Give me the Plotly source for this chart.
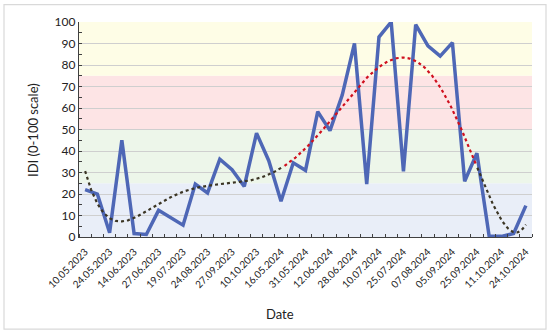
import numpy as np
import plotly.graph_objects as go

dates = ["10.05.2023","17.05.2023","24.05.2023","31.05.2023","14.06.2023","21.06.2023",
         "27.06.2023","05.07.2023","19.07.2023","02.08.2023","24.08.2023","07.09.2023",
         "27.09.2023","03.10.2023","10.10.2023","09.05.2024","16.05.2024","24.05.2024",
         "31.05.2024","05.06.2024","12.06.2024","19.06.2024","28.06.2024","03.07.2024",
         "10.07.2024","17.07.2024","25.07.2024","31.07.2024","07.08.2024","21.08.2024",
         "05.09.2024","18.09.2024","25.09.2024","02.10.2024","11.10.2024","17.10.2024",
         "24.10.2024"]
idi = [22, 20, 2, 45, 1.6, 1.2, 12.4, 9, 5.5, 24.6, 20.5, 36.2, 31.3, 23.5, 48.3, 35.5,
       16.6, 34.5, 31, 58.3, 49.5, 66, 90, 24.6, 93, 100, 30.5, 98.8, 88.9, 84.1, 90.4,
       25.9, 39, 0.4, 0.3, 1.6, 14.6]
bands = [(0, 25, "#E9EEF8"), (25, 50, "#EDF6EA"), (50, 75, "#FDE4E5"), (75, 100, "#FEFDE6")]
yticks = list(range(0, 101, 10))

n = len(idi)
xi = np.arange(n)
coef = np.polyfit(xi + 1, idi, 6)
xf = np.linspace(0, n - 1, 600)
yf = np.polyval(coef, xf + 1)

fig = go.Figure()
fig.add_trace(go.Scatter(x=xi, y=idi, mode="lines",
                         line=dict(color="#4E67B6", width=3.5), hoverinfo="skip"))
thr = 33
ydark = np.where(yf <= thr, yf, np.nan)
yred = np.where(yf >= thr, yf, np.nan)
fig.add_trace(go.Scatter(x=xf, y=ydark, mode="lines", connectgaps=False,
                         line=dict(color="#3B3524", width=2.2, dash="dot")))
fig.add_trace(go.Scatter(x=xf, y=yred, mode="lines", connectgaps=False,
                         line=dict(color="#D0101E", width=2.2, dash="dot")))

shapes = []
for lo, hi, col in bands:
    shapes.append(dict(type="rect", xref="x domain", yref="y", x0=0, x1=1, y0=lo, y1=hi,
                       fillcolor=col, line=dict(width=0), layer="below"))

W, H = 550, 334
L, R, T, B = 79, 18, 21.5, 96.5
pw, ph = W - L - R, H - T - B
def px(x): return (x - L) / pw
def py(y): return (H - B - y) / ph
shapes.append(dict(type="rect", xref="paper", yref="paper",
                   x0=px(4), x1=px(546), y0=py(4), y1=py(330),
                   line=dict(color="#D9D9D9", width=1.2), fillcolor="rgba(0,0,0,0)"))

fig.update_layout(
    width=W, height=H, margin=dict(l=L, r=R, t=T, b=B),
    paper_bgcolor="white", plot_bgcolor="white", showlegend=False,
    shapes=shapes,
    font=dict(family="Lato, Liberation Sans, sans-serif", color="#222222"),
    xaxis=dict(range=[-0.5, n - 0.5], tickvals=list(xi[::2]), ticktext=dates[::2],
               tickangle=-45, tickfont=dict(size=10), ticks="", showgrid=False,
               ticklabelstandoff=4,
               showline=True, linecolor="#404040", linewidth=1.3, zeroline=False,
               minor=dict(tick0=-0.5, dtick=1, ticks="inside", ticklen=3,
                          tickcolor="#404040", showgrid=False)),
    yaxis=dict(range=[0, 100], tickvals=yticks, tickfont=dict(size=12),
               ticks="inside", ticklen=3, tickcolor="#404040",
               showgrid=True, gridcolor="#CFCFCF", gridwidth=1,
               showline=True, linecolor="#404040", linewidth=1.3, zeroline=False,
               minor=dict(dtick=5, ticks="inside", ticklen=3, tickcolor="#404040",
                          showgrid=False)),
    annotations=[
        dict(text="IDI (0-100 scale)", xref="paper", yref="paper", x=px(33), y=py(130),
             textangle=-90, showarrow=False, font=dict(size=13), xanchor="center", yanchor="middle"),
        dict(text="Date", xref="paper", yref="paper", x=px(280), y=py(315),
             showarrow=False, font=dict(size=13), xanchor="center", yanchor="middle"),
    ],
)
fig.write_html("out.html", config={"displayModeBar": False},
               post_script="document.body.style.margin='0';document.body.style.overflow='hidden';")
